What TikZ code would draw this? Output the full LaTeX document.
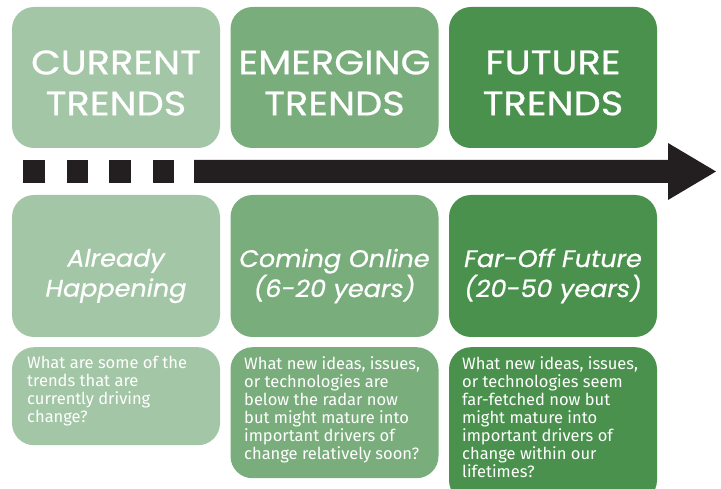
\documentclass[tikz,border=0pt]{standalone}
\usepackage{fontspec}
\setmainfont{Poppins}
\newfontfamily\titlefont[FakeStretch=1.13,FakeBold=0.6]{Poppins}
\newfontfamily\midfont[FakeStretch=1.06,FakeBold=0.7]{Poppins}
\newfontfamily\bodyfont{Fira Sans}
\definecolor{gA}{RGB}{163,198,166}
\definecolor{gB}{RGB}{122,173,124}
\definecolor{gC}{RGB}{74,145,77}
\definecolor{blk}{RGB}{35,31,32}
\begin{document}
\begin{tikzpicture}[x=1pt,y=-1pt,
  box/.style={rounded corners=22pt,minimum width=208pt,inner sep=0pt,text=white,align=center},
  titlebox/.style={box,minimum height=141pt},
  titletext/.style={text=white,align=center,inner sep=0pt,font=\titlefont\fontsize{34}{41}\selectfont},
  midbox/.style={box,minimum height=142pt},
  midtext/.style={text=white,align=center,inner sep=0pt,font=\midfont\itshape\fontsize{24}{30}\selectfont},
  qbox/.style={box,anchor=north},
  qtext/.style={anchor=north west,align=left,text=white,inner sep=0pt,font=\bodyfont\fontsize{16.5}{18}\selectfont},
  sq/.style={fill=blk}]
\useasboundingbox (0,0) rectangle (721,489);
% top boxes
\node[titlebox,fill=gA] (t1) at (116,77.5) {};
\node[titlebox,fill=gB] (t2) at (334.5,77.5) {};
\node[titlebox,fill=gC] (t3) at (553,77.5) {};
\node[titletext] (tt1) at (116,83) {CURRENT\\TRENDS};
\node[titletext] (tt2) at (334.5,83) {EMERGING\\TRENDS};
\node[titletext] (tt3) at (553,83) {FUTURE\\TRENDS};
% arrow
\fill[sq] (23,160) rectangle (45,183);
\fill[sq] (67,160) rectangle (88,183);
\fill[sq] (109,160) rectangle (131,183);
\fill[sq] (153,160) rectangle (174,183);
\fill[blk] (194,160) -- (668,160) -- (668,143) -- (716,171.5) -- (668,200) -- (668,183) -- (194,183) -- cycle;
% middle boxes
\node[midbox,fill=gA] (m1) at (116,266) {};
\node[midbox,fill=gB] (m2) at (334.5,266) {};
\node[midbox,fill=gC] (m3) at (553,266) {};
\node[midtext] (mt1) at (116,276) {Already\\Happening};
\node[midtext] (mt2) at (334.5,276) {Coming Online\\(6-20 years)};
\node[midtext] (mt3) at (553,276) {Far-Off Future\\(20-50 years)};
% bottom boxes
\node[qbox,fill=gA,minimum height=98pt] (b1) at (116,347) {};
\node[qbox,fill=gB,minimum height=131pt] (b2) at (334.5,347) {};
\node[qbox,fill=gC,minimum height=155pt] (b3) at (553,347) {};
\node[qtext] (q1) at (27,356) {What are some of the\\trends that are\\currently driving\\change?};
\node[qtext] (q2) at (244,356) {What new ideas, issues,\\or technologies are\\below the radar now\\but might mature into\\important drivers of\\change relatively soon?};
\node[qtext] (q3) at (462,356) {What new ideas, issues,\\or technologies seem\\far-fetched now but\\might mature into\\important drivers of\\change within our\\lifetimes?};
\end{tikzpicture}
\end{document}
